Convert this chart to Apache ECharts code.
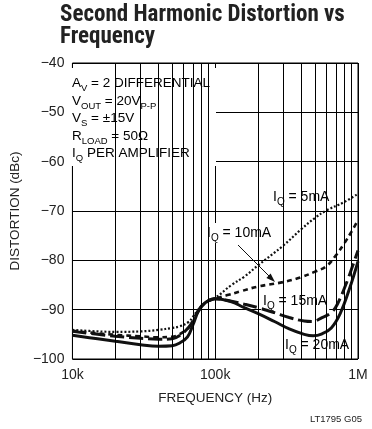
<!DOCTYPE html>
<html><head><meta charset="utf-8">
<script src="https://cdn.jsdelivr.net/npm/echarts@6/dist/echarts.min.js"></script>
<style>html,body{margin:0;padding:0;background:#fff;}#c{width:372px;height:429px;}</style>
</head><body><div id="c"></div>
<script>
const FONT_T = "'Liberation Sans Narrow','Roboto Condensed','DejaVu Sans Condensed','Liberation Sans',sans-serif";
const FONT = "'Liberation Sans',Arial,sans-serif";

// Axis ticks
const yMin = -100, yMax = -40, yStep = 10;
const xTickLabels = {10000: '10k', 100000: '100k', 1000000: '1M'};
const minorGridFreqs = [20000, 30000, 40000, 50000, 60000, 70000, 80000, 90000,
                        200000, 300000, 400000, 500000, 600000, 700000, 800000, 900000];

// IQ = 5mA (dotted)
const freq5 = [10000, 15000, 20000, 30000, 40000, 50000, 56000, 65000, 70000, 76000, 85000, 100000,
               130000, 160000, 200000, 300000, 400000, 500000, 600000, 800000, 1000000];
const dist5 = [-94.1, -94.4, -94.5, -94.4, -94.1, -93.7, -93.4, -92.5, -91.4, -90.0, -88.7, -87.6,
               -85.0, -83.3, -81.0, -77.0, -73.7, -71.4, -69.9, -68.2, -66.5];

// IQ = 10mA (short dash)
const freq10 = [10000, 15000, 20000, 30000, 40000, 50000, 56000, 65000, 70000, 76000, 85000, 100000,
                120000, 150000, 200000, 300000, 400000, 500000, 600000, 700000, 800000, 900000, 1000000];
const dist10 = [-94.3, -94.8, -95.1, -95.4, -95.6, -95.5, -95.0, -93.7, -92.4, -90.4, -88.6, -87.8,
                -87.1, -86.3, -85.3, -84.4, -83.4, -82.3, -81.2, -79.0, -76.6, -74.2, -71.8];

// IQ = 15mA (long dash)
const freq15 = [10000, 15000, 20000, 30000, 40000, 50000, 56000, 65000, 70000, 76000, 85000, 100000,
                130000, 160000, 200000, 260000, 330000, 420000, 480000, 560000, 650000, 720000, 840000, 920000, 1000000];
const dist15 = [-94.4, -95.0, -95.4, -95.8, -96.0, -95.9, -95.3, -93.6, -92.2, -90.2, -88.6, -87.8,
                -88.3, -88.9, -89.6, -90.6, -91.6, -92.3, -92.4, -91.6, -90.6, -88.8, -84.2, -81.0, -78.0];

// IQ = 20mA (solid)
const freq20 = [10000, 15000, 20000, 30000, 40000, 50000, 56000, 64000, 70000, 76000, 85000, 100000,
                130000, 160000, 200000, 260000, 330000, 420000, 485000, 560000, 650000, 750000, 880000, 1000000];
const dist20 = [-95.2, -95.9, -96.4, -97.1, -97.4, -97.3, -96.8, -95.5, -93.0, -90.4, -88.6, -87.8,
                -88.4, -89.6, -90.8, -92.4, -93.9, -95.0, -95.3, -94.9, -93.7, -90.8, -85.4, -80.2];

const zip = (xs, ys) => xs.map((x, i) => [x, ys[i]]);

const chart = echarts.init(document.getElementById('c'), null, {renderer: 'canvas'});

const richBox = {
  n: {fontFamily: FONT, fontSize: 13.5, lineHeight: 17.5, color: '#222'},
  s: {fontFamily: FONT, fontSize: 9.5, lineHeight: 8, padding: [9.5, 0, 0, 0], color: '#222'}
};
const richLabel = {
  n: {fontFamily: FONT, fontSize: 14, lineHeight: 18, color: '#222'},
  s: {fontFamily: FONT, fontSize: 10, lineHeight: 8, padding: [10, 0, 0, 0], color: '#222'}
};

function lbl(x, y, text) {
  return {
    type: 'text', x: x, y: y, z: 1.5,
    style: {text: text, rich: richLabel, backgroundColor: '#fff', padding: [1, 2, 1, 2]}
  };
}

const option = {
  backgroundColor: '#fff',
  animation: false,
  textStyle: {fontFamily: FONT},
  grid: {left: 63, right: 14, top: 63, bottom: 70, show: true, borderColor: '#000', borderWidth: 1, backgroundColor: 'transparent'},
  xAxis: {
    type: 'log', logBase: 10, min: 10000, max: 1000000,
    name: 'FREQUENCY (Hz)', nameLocation: 'middle', nameGap: 32,
    nameTextStyle: {fontFamily: FONT, fontSize: 13.5, color: '#222'},
    axisLine: {show: false}, axisTick: {show: false},
    axisLabel: {fontFamily: FONT, fontSize: 14, color: '#222', margin: 9,
      formatter: v => xTickLabels[Math.round(v)] || ''},
    splitLine: {show: true, lineStyle: {color: '#000', width: 1}}
  },
  yAxis: {
    type: 'value', min: yMin, max: yMax, interval: yStep,
    name: 'DISTORTION (dBc)', nameLocation: 'middle', nameGap: 47,
    nameTextStyle: {fontFamily: FONT, fontSize: 13.5, color: '#222'},
    axisLine: {show: false}, axisTick: {show: false},
    axisLabel: {fontFamily: FONT, fontSize: 14, color: '#222', margin: 8,
      formatter: v => (v < 0 ? '\u2212' + Math.abs(v) : String(v))},
    splitLine: {show: true, lineStyle: {color: '#000', width: 1}}
  },
  series: [
    {
      type: 'line', data: [], z: 1, silent: true,
      markLine: {
        silent: true, symbol: ['none', 'none'], label: {show: false}, animation: false,
        lineStyle: {color: '#000', width: 1, type: 'solid'},
        emphasis: {disabled: true},
        data: minorGridFreqs.map(f => ({xAxis: f}))
      }
    },
    {name: 'IQ = 5mA', type: 'line', data: zip(freq5, dist5), showSymbol: false, symbol: 'none', smooth: 0.4, z: 3,
     lineStyle: {color: '#111', width: 2.2, type: [2, 2]}},
    {name: 'IQ = 10mA', type: 'line', data: zip(freq10, dist10), showSymbol: false, symbol: 'none', smooth: 0.4, z: 3,
     lineStyle: {color: '#111', width: 2.6, type: [5, 4]}},
    {name: 'IQ = 15mA', type: 'line', data: zip(freq15, dist15), showSymbol: false, symbol: 'none', smooth: 0.4, z: 3,
     lineStyle: {color: '#111', width: 3, type: [14, 5]}},
    {name: 'IQ = 20mA', type: 'line', data: zip(freq20, dist20), showSymbol: false, symbol: 'none', smooth: 0.4, z: 3,
     lineStyle: {color: '#111', width: 3, type: 'solid'}}
  ],
  graphic: [
    {type: 'text', left: 60, top: 4, z: 5,
     style: {text: 'Second Harmonic Distortion vs\nFrequency', fontFamily: FONT_T, fontWeight: 'bold', fontSize: 23, lineHeight: 22, fill: '#222'}},
    {type: 'rect', z: 1.5, shape: {x: 69, y: 68, width: 147, height: 98}, style: {fill: '#fff'}},
    {type: 'text', x: 72, y: 75, z: 1.6,
     style: {
       text: '{n|A}{s|V}{n| = 2 DIFFERENTIAL}\n{n|V}{s|OUT}{n| = 20V}{s|P-P}\n{n|V}{s|S}{n| = \u00B115V}\n{n|R}{s|LOAD}{n| = 50\u03A9}\n{n|I}{s|Q}{n| PER AMPLIFIER}',
       rich: richBox
     }},
    lbl(271, 187, '{n|I}{s|Q}{n| = 5mA}'),
    lbl(205, 223, '{n|I}{s|Q}{n| = 10mA}'),
    lbl(261, 291, '{n|I}{s|Q}{n| = 15mA}'),
    lbl(283, 335, '{n|I}{s|Q}{n| = 20mA}'),
    {type: 'line', z: 4, shape: {x1: 238, y1: 245, x2: 270, y2: 277}, style: {stroke: '#111', lineWidth: 1}},
    {type: 'polygon', z: 4, shape: {points: [[275, 282], [266.4, 277.9], [270.6, 273.5]]}, style: {fill: '#111'}},
    {type: 'text', right: 10, top: 414, z: 5,
     style: {text: 'LT1795 G05', fontFamily: FONT, fontSize: 9.5, fill: '#222'}}
  ]
};
chart.setOption(option);
</script>
</body></html>
